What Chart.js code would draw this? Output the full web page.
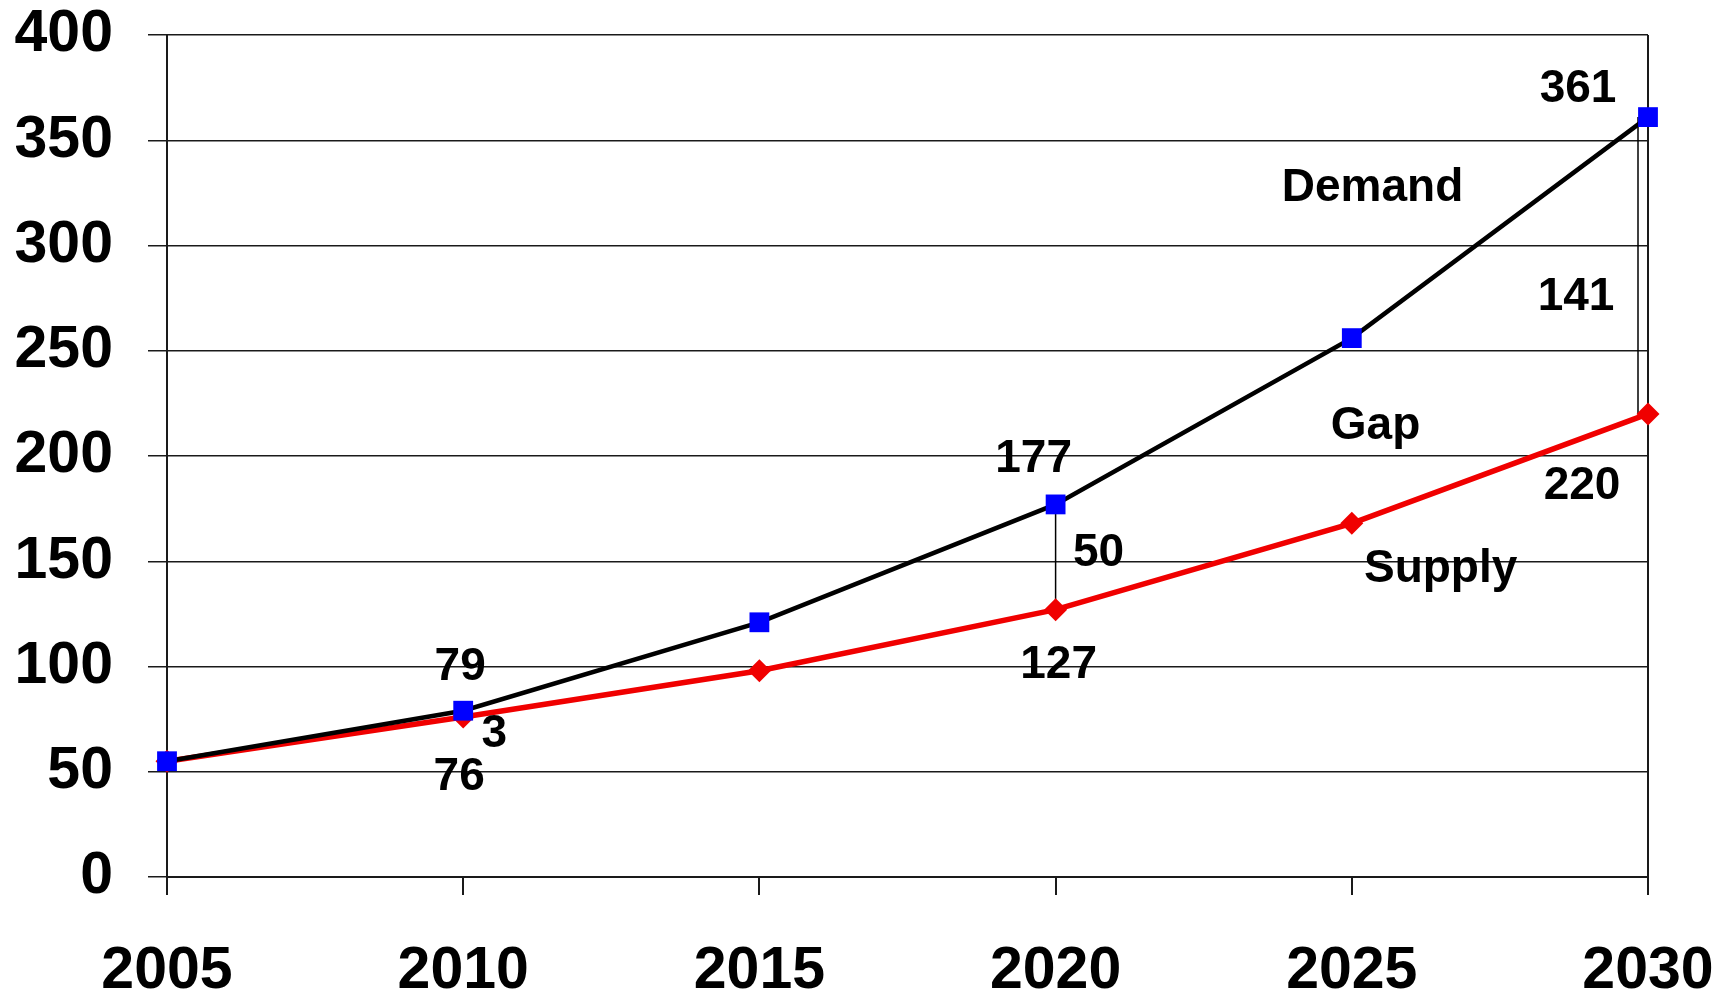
<!DOCTYPE html>
<html><head><meta charset="utf-8">
<script src="https://cdn.jsdelivr.net/npm/chart.js@4/dist/chart.umd.min.js"></script>
<style>html,body{margin:0;padding:0;background:#fff;overflow:hidden}#wrap{width:1729px;height:995px;position:relative}canvas{display:block}</style>
</head><body><div id="wrap"><canvas id="c" width="1729" height="995" style="width:1729px;height:995px"></canvas></div>
<script>
// ---- data ----
const years = ['2005', '2010', '2015', '2020', '2025', '2030'];
const demand = [55, 79, 121, 177, 256, 361];
const supply = [55, 76, 98, 127, 168, 220];
const yTickMin = 0;
const yTickMax = 400;
const yTickStep = 50;
const demandLabels = [null, '79', null, '177', null, '361'];
const supplyLabels = [null, '76', null, '127', null, '220'];
const gapLabels = [null, '3', null, '50', null, '141'];
const seriesNames = ['Demand', 'Gap', 'Supply'];

// ---- styles / placement (pixels) ----
const FONT = "'Liberation Sans', Arial, sans-serif";
const AXIS_COLOR = '#1a1a1a';
const labelStyle = { size: 46, weight: 'bold' };
const textShift = 2;
const demandOffsets = { 1: [-3, -45], 3: [-22, -47], 5: [-70, -30] };
const supplyOffsets = { 1: [-4, 58], 3: [3, 54], 5: [-66, 70] };
const gapOffsets = { 1: [31, 18], 3: [43, -6], 5: [-72, 30] };
const gapLineOffsets = { 3: 0, 5: -10 };
const seriesNamePlacement = [[4.07, 328], [4.08, 215], [4.30, 147]]; // in data units

const annotationPlugin = {
  id: 'annot',
  beforeDatasetsDraw(chart) {
    const ctx = chart.ctx, xs = chart.scales.x, ys = chart.scales.y;
    ctx.save();
    ctx.strokeStyle = '#000';
    ctx.lineWidth = 1.5;
    for (const k of Object.keys(gapLineOffsets)) {
      const i = +k;
      const x = xs.getPixelForValue(i) + gapLineOffsets[k];
      ctx.beginPath();
      ctx.moveTo(x, ys.getPixelForValue(demand[i]));
      ctx.lineTo(x, ys.getPixelForValue(supply[i]));
      ctx.stroke();
    }
    ctx.restore();
  },
  afterDatasetsDraw(chart) {
    const ctx = chart.ctx, xs = chart.scales.x, ys = chart.scales.y;
    ctx.save();
    ctx.fillStyle = '#000';
    ctx.font = `${labelStyle.weight} ${labelStyle.size}px ${FONT}`;
    ctx.textAlign = 'center';
    ctx.textBaseline = 'middle';
    years.forEach((_, i) => {
      const x = xs.getPixelForValue(i);
      if (demandLabels[i]) {
        const o = demandOffsets[i];
        ctx.fillText(demandLabels[i], x + o[0], ys.getPixelForValue(demand[i]) + o[1] + textShift);
      }
      if (supplyLabels[i]) {
        const o = supplyOffsets[i];
        ctx.fillText(supplyLabels[i], x + o[0], ys.getPixelForValue(supply[i]) + o[1] + textShift);
      }
      if (gapLabels[i]) {
        const o = gapOffsets[i];
        const mid = (ys.getPixelForValue(demand[i]) + ys.getPixelForValue(supply[i])) / 2;
        ctx.fillText(gapLabels[i], x + o[0], mid + o[1] + textShift);
      }
    });
    seriesNames.forEach((name, j) => {
      const p = seriesNamePlacement[j];
      ctx.fillText(name, xs.getPixelForValue(p[0]), ys.getPixelForValue(p[1]) + textShift);
    });
    ctx.restore();
  }
};

new Chart(document.getElementById('c'), {
  type: 'line',
  data: {
    labels: years,
    datasets: [
      {
        label: 'Demand', data: demand,
        borderColor: '#000', borderWidth: 4.5, tension: 0,
        pointStyle: 'rect', pointRadius: 14, pointBorderWidth: 0,
        pointBackgroundColor: '#0000ff', pointBorderColor: '#0000ff',
        clip: false, order: 0
      },
      {
        label: 'Supply', data: supply,
        borderColor: '#f00000', borderWidth: 5.5, tension: 0,
        pointStyle: 'rectRot', pointRadius: 11.5, pointBorderWidth: 0,
        pointBackgroundColor: '#f00000', pointBorderColor: '#f00000',
        clip: false, order: 1
      }
    ]
  },
  options: {
    responsive: false,
    animation: false,
    devicePixelRatio: 1,
    layout: { padding: { left: 0, right: 81, top: 35, bottom: 0 } },
    plugins: { legend: { display: false }, tooltip: { enabled: false } },
    scales: {
      x: {
        type: 'category',
        offset: false,
        afterFit(s) { s.height = 118; s.paddingLeft = 0; s.paddingRight = 0; },
        grid: {
          offset: false,
          drawOnChartArea: true,
          color: (c) => (c.index === years.length - 1 ? AXIS_COLOR : 'rgba(0,0,0,0)'),
          tickColor: AXIS_COLOR,
          tickLength: 18,
          lineWidth: 2
        },
        border: { display: true, color: AXIS_COLOR, width: 2 },
        ticks: {
          color: '#000', padding: 41, maxRotation: 0, autoSkip: false,
          font: { family: FONT, size: 59, weight: 'bold' }
        }
      },
      y: {
        min: yTickMin, max: yTickMax,
        afterFit(s) { s.width = 167; s.paddingTop = 0; s.paddingBottom = 0; },
        grid: { color: AXIS_COLOR, lineWidth: 1.5, tickLength: 19, tickColor: AXIS_COLOR },
        border: { display: true, color: AXIS_COLOR, width: 2 },
        ticks: {
          stepSize: yTickStep, color: '#000', padding: 35,
          font: { family: FONT, size: 59, weight: 'bold' }
        }
      }
    }
  },
  plugins: [annotationPlugin]
});
</script>
</body></html>
